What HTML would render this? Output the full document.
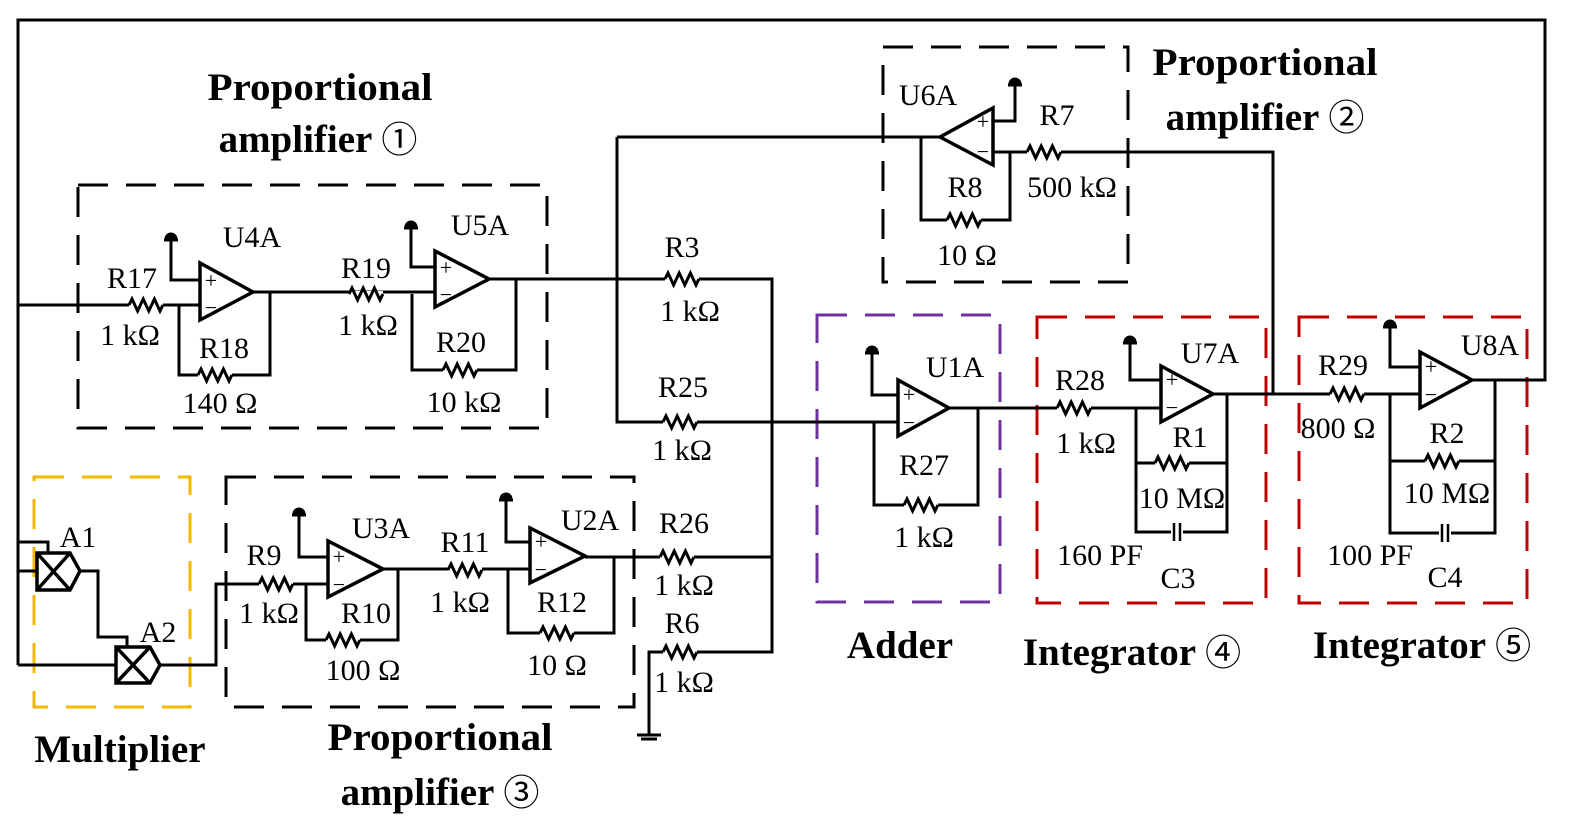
<!DOCTYPE html>
<html><head><meta charset="utf-8"><style>
html,body{margin:0;padding:0;background:#fff;}
svg{display:block;}
text{font-family:"Liberation Serif",serif;fill:#000;}
.l{font-size:30px;text-anchor:middle;}
.b{font-size:39px;font-weight:bold;text-anchor:middle;}
.s{font-size:22px;text-anchor:middle;}
.c{font-family:"Noto Sans CJK SC","DejaVu Sans",sans-serif;font-weight:normal;font-size:36px;}
</style></head><body>
<svg width="1584" height="838" viewBox="0 0 1584 838" xmlns="http://www.w3.org/2000/svg">
<defs>
<g id="r"><line x1="0" y1="0" x2="34" y2="0" stroke="#fff" stroke-width="6"/><path d="M0 0 l3 -6 l5.6 12 l5.6 -12 l5.6 12 l5.6 -12 l5.6 12 l2.9 -6" fill="none" stroke="#000" stroke-width="3"/></g>
<g id="g"><path d="M-7 0 h14 M-5 -1 a5 5 0 0 1 10 0z" fill="#000" stroke="#000" stroke-width="3"/></g>
<g id="cap"><line x1="-6" y1="0" x2="6" y2="0" stroke="#fff" stroke-width="6"/><path d="M-3 -9 v18 M3 -9 v18" stroke="#000" stroke-width="2.5"/></g>
</defs>
<rect width="1584" height="838" fill="#fff"/>

<g fill="none" stroke-width="3" stroke-dasharray="30 18">
<rect x="78" y="185" width="469" height="243" stroke="#000"/>
<rect x="883" y="47" width="245" height="235" stroke="#000"/>
<rect x="226" y="477" width="408" height="230" stroke="#000"/>
<rect x="34" y="477" width="156" height="230" stroke="#f5b800"/>
<rect x="817" y="315" width="183" height="287" stroke="#7030a0"/>
<rect x="1037" y="317" width="229" height="286" stroke="#c00000"/>
<rect x="1299" y="317" width="228" height="286" stroke="#c00000"/>
</g>

<g fill="none" stroke="#000" stroke-width="3">
<path d="M18 665 V20 H1545 V380 H1472"/>
<path d="M18 305 H200"/>
<path d="M171 240 V280 H200"/>
<path d="M179 305 V375 H270 V292"/>
<path d="M253 292 H435"/>
<path d="M411 228 V267 H435"/>
<path d="M412 294 V370 H516 V279"/>
<path d="M489 279 H772 V652 H649 V735"/>
<path d="M637 735 h24 M641 739 h16"/>
<path d="M617 137 V422 H898"/>
<path d="M617 137 H940"/>
<path d="M993 121 H1015 V85"/>
<path d="M993 152 H1273 V394"/>
<path d="M921 137 V220 H1010 V152"/>
<path d="M585 557 H772"/>
<path d="M18 542 H48 V553 M18 571 H37 M80 571 H98 V637 H127 V647 M18 665 H116 M160 665 H216 V584 H328"/>
<path d="M299 515 V557 H328"/>
<path d="M306 584 V640 H398 V569"/>
<path d="M383 569 H530"/>
<path d="M506 500 V542 H530"/>
<path d="M508 570 V633 H614 V556"/>
<path d="M872 353 V395 H898"/>
<path d="M874 423 V505 H978 V408"/>
<path d="M949 408 H1161"/>
<path d="M1130 343 V380 H1161"/>
<path d="M1136 408 V532 H1227 V394 M1136 463 H1227"/>
<path d="M1213 394 H1420"/>
<path d="M1390 327 V367 H1420"/>
<path d="M1390 395 V533 H1495 V380 M1390 461 H1495"/>
</g>

<g fill="#fff" stroke="#000" stroke-width="3.5">
<polygon points="200,263 200,320 253,292"/>
<polygon points="435,251 435,307 489,279"/>
<polygon points="993,108 993,165 940,137"/>
<polygon points="328,541 328,597 383,569"/>
<polygon points="530,528 530,583 585,556"/>
<polygon points="898,380 898,436 949,408"/>
<polygon points="1161,366 1161,422 1213,394"/>
<polygon points="1420,352 1420,408 1472,380"/>
</g>
<g class="s">
<text x="211" y="288">+</text><text x="211" y="315">−</text>
<text x="446" y="275">+</text><text x="446" y="302">−</text>
<text x="983" y="129">+</text><text x="983" y="159">−</text>
<text x="339" y="564">+</text><text x="339" y="592">−</text>
<text x="541" y="549">+</text><text x="541" y="577">−</text>
<text x="909" y="402">+</text><text x="909" y="430">−</text>
<text x="1172" y="387">+</text><text x="1172" y="415">−</text>
<text x="1431" y="374">+</text><text x="1431" y="402">−</text>
</g>

<use href="#g" x="171" y="240"/><use href="#g" x="411" y="228"/><use href="#g" x="1015" y="85"/>
<use href="#g" x="299" y="515"/><use href="#g" x="506" y="500"/><use href="#g" x="872" y="353"/>
<use href="#g" x="1130" y="343"/><use href="#g" x="1390" y="327"/>

<use href="#r" x="129" y="305"/><use href="#r" x="198" y="375"/>
<use href="#r" x="349" y="294"/><use href="#r" x="443" y="370"/>
<use href="#r" x="665" y="279"/><use href="#r" x="663" y="422"/>
<use href="#r" x="660" y="557"/><use href="#r" x="663" y="652"/>
<use href="#r" x="1027" y="152"/><use href="#r" x="947" y="220"/>
<use href="#r" x="259" y="584"/><use href="#r" x="326" y="640"/>
<use href="#r" x="448" y="570"/><use href="#r" x="540" y="633"/>
<use href="#r" x="904" y="505"/><use href="#r" x="1057" y="408"/>
<use href="#r" x="1155" y="463"/><use href="#r" x="1330" y="394"/>
<use href="#r" x="1425" y="461"/>
<use href="#cap" x="1177" y="532"/><use href="#cap" x="1445" y="533"/>

<g fill="#fff" stroke="#000" stroke-width="3.5">
<path d="M37 553 H70 L80 571 L70 590 H37 Z M37 553 L70 590 M70 553 L37 590"/>
<path d="M116 647 H150 L160 665 L150 683 H116 Z M116 647 L150 683 M150 647 L116 683"/>
</g>

<g class="l">
<text x="132" y="288">R17</text><text x="130" y="345">1 kΩ</text>
<text x="224" y="358">R18</text><text x="220" y="413">140 Ω</text>
<text x="252" y="247">U4A</text>
<text x="366" y="278">R19</text><text x="368" y="335">1 kΩ</text>
<text x="480" y="235">U5A</text>
<text x="461" y="352">R20</text><text x="464" y="412">10 kΩ</text>
<text x="682" y="257">R3</text><text x="690" y="321">1 kΩ</text>
<text x="683" y="397">R25</text><text x="682" y="460">1 kΩ</text>
<text x="684" y="533">R26</text><text x="684" y="595">1 kΩ</text>
<text x="682" y="633">R6</text><text x="684" y="692">1 kΩ</text>
<text x="928" y="105">U6A</text>
<text x="1057" y="125">R7</text><text x="1072" y="197">500 kΩ</text>
<text x="965" y="197">R8</text><text x="967" y="265">10 Ω</text>
<text x="78" y="547">A1</text><text x="158" y="642">A2</text>
<text x="381" y="538">U3A</text>
<text x="264" y="565">R9</text><text x="269" y="623">1 kΩ</text>
<text x="366" y="623">R10</text><text x="363" y="680">100 Ω</text>
<text x="465" y="552">R11</text><text x="460" y="612">1 kΩ</text>
<text x="590" y="530">U2A</text>
<text x="562" y="612">R12</text><text x="557" y="675">10 Ω</text>
<text x="955" y="377">U1A</text>
<text x="924" y="475">R27</text><text x="924" y="547">1 kΩ</text>
<text x="1080" y="390">R28</text><text x="1086" y="453">1 kΩ</text>
<text x="1210" y="363">U7A</text>
<text x="1190" y="447">R1</text><text x="1182" y="508">10 MΩ</text>
<text x="1100" y="565">160 PF</text><text x="1178" y="588">C3</text>
<text x="1343" y="375">R29</text><text x="1338" y="438">800 Ω</text>
<text x="1490" y="355">U8A</text>
<text x="1447" y="443">R2</text><text x="1447" y="503">10 MΩ</text>
<text x="1370" y="565">100 PF</text><text x="1445" y="587">C4</text>
</g>

<g class="b">
<text x="320" y="100" textLength="225" lengthAdjust="spacingAndGlyphs">Proportional</text>
<text x="318" y="152">amplifier <tspan class="c">①</tspan></text>
<text x="1265" y="75" textLength="225" lengthAdjust="spacingAndGlyphs">Proportional</text>
<text x="1265" y="130">amplifier <tspan class="c">②</tspan></text>
<text x="120" y="762">Multiplier</text>
<text x="440" y="750" textLength="225" lengthAdjust="spacingAndGlyphs">Proportional</text>
<text x="440" y="805">amplifier <tspan class="c">③</tspan></text>
<text x="900" y="658">Adder</text>
<text x="1132" y="665">Integrator <tspan class="c">④</tspan></text>
<text x="1422" y="658">Integrator <tspan class="c">⑤</tspan></text>
</g>
</svg>
</body></html>
